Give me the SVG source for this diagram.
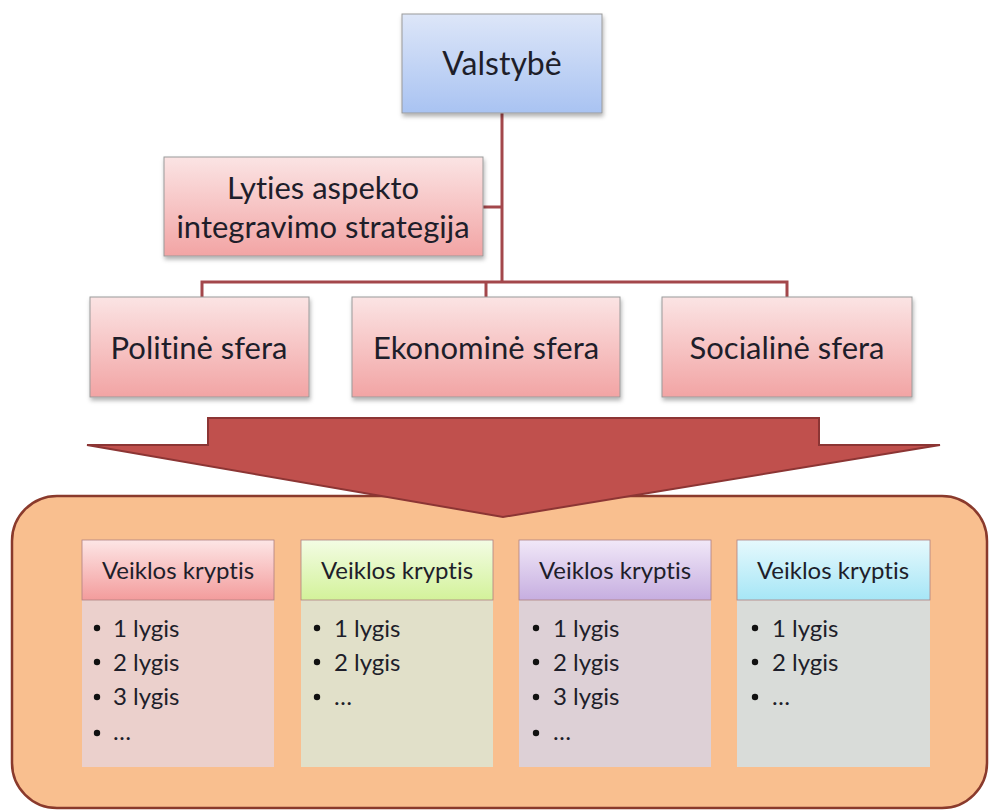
<svg xmlns="http://www.w3.org/2000/svg" width="992" height="810" viewBox="0 0 992 810">
<defs>
<linearGradient id="gBlue" x1="0" y1="0" x2="0" y2="1"><stop offset="0" stop-color="#dde6f8"/><stop offset="1" stop-color="#a9c3f2"/></linearGradient>
<linearGradient id="gPink" x1="0" y1="0" x2="0" y2="1"><stop offset="0" stop-color="#fbe4e4"/><stop offset="1" stop-color="#f2a4a4"/></linearGradient>
<linearGradient id="hPink" x1="0" y1="0" x2="0" y2="1"><stop offset="0" stop-color="#fde6e6"/><stop offset="1" stop-color="#f39c9c"/></linearGradient>
<linearGradient id="hGreen" x1="0" y1="0" x2="0" y2="1"><stop offset="0" stop-color="#f3fce4"/><stop offset="1" stop-color="#d3f29a"/></linearGradient>
<linearGradient id="hPurple" x1="0" y1="0" x2="0" y2="1"><stop offset="0" stop-color="#f1e8f8"/><stop offset="1" stop-color="#c6aee0"/></linearGradient>
<linearGradient id="hCyan" x1="0" y1="0" x2="0" y2="1"><stop offset="0" stop-color="#e6f9fd"/><stop offset="1" stop-color="#a6e6f6"/></linearGradient>
<filter id="sh" x="-10%" y="-10%" width="120%" height="130%"><feDropShadow dx="1" dy="3" stdDeviation="2" flood-color="#000" flood-opacity="0.3"/></filter>
</defs>
<style>
.box{stroke:#9a9a9a;stroke-width:1;filter:url(#sh)}
.t{font-family:Lato,"Open Sans",sans-serif;fill:#1e1e2a;text-anchor:middle;font-variant-ligatures:none}
.big{font-size:32px}
.mid{font-size:31px}
.card{font-size:24px}
.li{font-family:Lato,"Open Sans",sans-serif;fill:#1e1e2a;font-size:24px;font-variant-ligatures:none}
.dot{fill:#111}
.conn{stroke:#a3474b;stroke-width:3;fill:none}
.hdr{stroke:#b08080;stroke-width:0.8}
</style>
<rect width="992" height="810" fill="#ffffff"/>

<g id="connectors">
<path class="conn" d="M502 113 V282"/>
<path class="conn" d="M483 207 H502"/>
<path class="conn" d="M202 297 V282 H787 V297"/>
<path class="conn" d="M486 282 V297"/>
</g>

<g id="valstybe">
<rect class="box" x="402" y="14" width="200" height="99" fill="url(#gBlue)"/>
<text class="t big" x="502" y="75">Valstybė</text>
</g>

<g id="lyties">
<rect class="box" x="164" y="157" width="319" height="99" fill="url(#gPink)"/>
<text class="t mid" x="323" y="199">Lyties aspekto</text>
<text class="t mid" x="323" y="238">integravimo strategija</text>
</g>

<g id="politine">
<rect class="box" x="90" y="297" width="219" height="100" fill="url(#gPink)"/>
<text class="t mid" x="199" y="359">Politinė sfera</text>
</g>
<g id="ekonomine">
<rect class="box" x="352" y="297" width="268" height="100" fill="url(#gPink)"/>
<text class="t mid" x="486" y="359">Ekonominė sfera</text>
</g>
<g id="socialine">
<rect class="box" x="662" y="297" width="250" height="100" fill="url(#gPink)"/>
<text class="t mid" x="787" y="359">Socialinė sfera</text>
</g>

<g id="container">
<rect x="12" y="496" width="975" height="312" rx="45" fill="#f9bf8f" stroke="#8a3a2c" stroke-width="2.5"/>
</g>

<g id="arrow">
<polygon points="208,418 819,418 819,445 940,445 503,517 87,445 208,445" fill="#c0504d" stroke="#8c3534" stroke-width="2"/>
</g>

<g id="card1">
<rect x="82" y="600" width="192" height="167" fill="#ebd0cc"/>
<rect class="hdr" x="82" y="540" width="192" height="60" fill="url(#hPink)"/>
<text class="t card" x="178" y="579">Veiklos kryptis</text>
<circle class="dot" cx="97" cy="628" r="3.2"/><circle class="dot" cx="97" cy="662" r="3.2"/><circle class="dot" cx="97" cy="697" r="3.2"/><circle class="dot" cx="97" cy="733" r="3.2"/>
<text class="li"><tspan x="113" y="637">1 lygis</tspan><tspan x="113" y="671">2 lygis</tspan><tspan x="113" y="705">3 lygis</tspan><tspan x="113" y="740">…</tspan></text>
</g>
<g id="card2">
<rect x="301" y="600" width="192" height="167" fill="#e1e0c9"/>
<rect class="hdr" x="301" y="540" width="192" height="60" fill="url(#hGreen)" stroke="#c0c0a0"/>
<text class="t card" x="397" y="579">Veiklos kryptis</text>
<circle class="dot" cx="317" cy="628" r="3.2"/><circle class="dot" cx="317" cy="662" r="3.2"/><circle class="dot" cx="317" cy="697" r="3.2"/>
<text class="li"><tspan x="334" y="637">1 lygis</tspan><tspan x="334" y="671">2 lygis</tspan><tspan x="334" y="705">…</tspan></text>
</g>
<g id="card3">
<rect x="519" y="600" width="192" height="167" fill="#ddd0d6"/>
<rect class="hdr" x="519" y="540" width="192" height="60" fill="url(#hPurple)" stroke="#a090b0"/>
<text class="t card" x="615" y="579">Veiklos kryptis</text>
<circle class="dot" cx="536" cy="628" r="3.2"/><circle class="dot" cx="536" cy="662" r="3.2"/><circle class="dot" cx="536" cy="697" r="3.2"/><circle class="dot" cx="536" cy="733" r="3.2"/>
<text class="li"><tspan x="553" y="637">1 lygis</tspan><tspan x="553" y="671">2 lygis</tspan><tspan x="553" y="705">3 lygis</tspan><tspan x="553" y="740">…</tspan></text>
</g>
<g id="card4">
<rect x="737" y="600" width="193" height="167" fill="#d9dcd9"/>
<rect class="hdr" x="737" y="540" width="193" height="60" fill="url(#hCyan)" stroke="#90b8c0"/>
<text class="t card" x="833" y="579">Veiklos kryptis</text>
<circle class="dot" cx="755" cy="628" r="3.2"/><circle class="dot" cx="755" cy="662" r="3.2"/><circle class="dot" cx="755" cy="697" r="3.2"/>
<text class="li"><tspan x="772" y="637">1 lygis</tspan><tspan x="772" y="671">2 lygis</tspan><tspan x="772" y="705">…</tspan></text>
</g>
</svg>
